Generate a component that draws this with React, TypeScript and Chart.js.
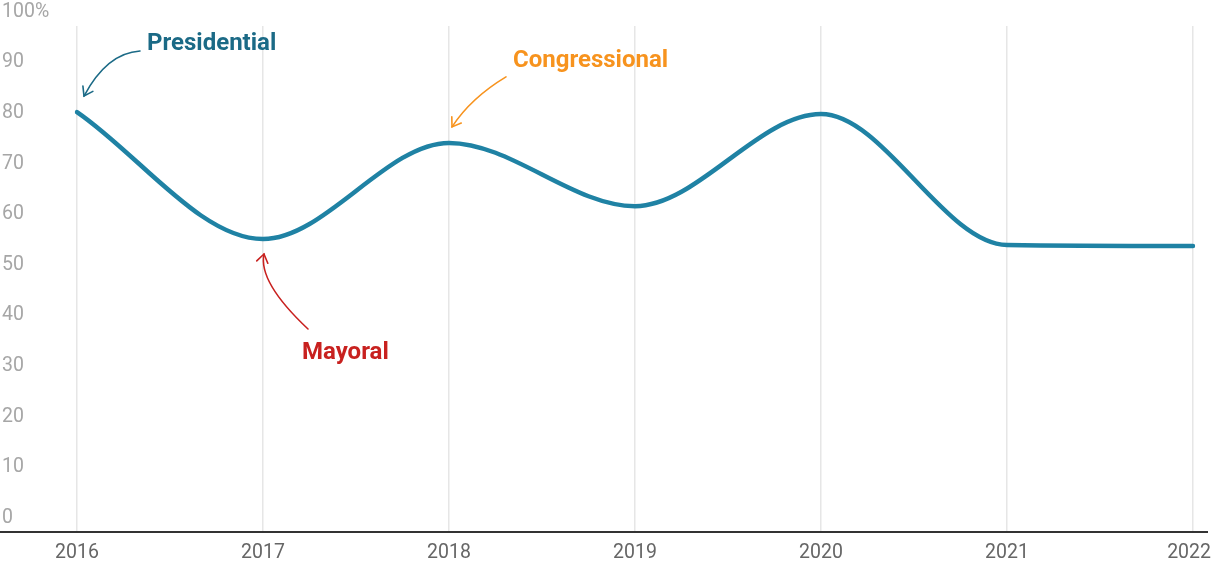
import React, { useEffect, useRef } from "react";
import { Chart, registerables } from "chart.js";

Chart.register(...registerables);

const years = ["2016", "2017", "2018", "2019", "2020", "2021", "2022"];
const turnout = [83.0, 57.9, 76.9, 64.4, 82.6, 56.7, 56.5];
const yTicks = [0, 10, 20, 30, 40, 50, 60, 70, 80, 90, 100];

type Note = {
  text: string;
  index: number;
  color: string;
  tx: number; ty: number;
  sx: number; sy: number;
  cx: number; cy: number;
  ex: number; ey: number;
};

const notes: Note[] = [
  { text: "Presidential", index: 0, color: "#1b6a86", tx: 70, ty: -68, sx: 63, sy: -61, cx: 30, cy: -59, ex: 7, ey: -16 },
  { text: "Mayoral", index: 1, color: "#c8211f", tx: 39, ty: 114, sx: 45, sy: 90, cx: -5, cy: 43, ex: 1, ey: 15 },
  { text: "Congressional", index: 2, color: "#f7931e", tx: 64, ty: -82, sx: 57, sy: -66, cx: 22, cy: -45, ex: 3, ey: -16 },
];

const FONT = "Roboto, 'Noto Sans', sans-serif";

const overlay = {
  id: "overlay",
  afterDraw(chart: any) {
    const { ctx, scales } = chart;
    const xs = scales.x;
    const ys = scales.y;
    ctx.save();
    // y labels
    ctx.font = `19.5px ${FONT}`;
    ctx.fillStyle = "#a6a6a6";
    ctx.textAlign = "left";
    ctx.textBaseline = "middle";
    yTicks.forEach((v) => {
      const y = ys.getPixelForValue(v) - 14;
      ctx.fillText(v === 100 ? "100%" : String(v), 2, y);
    });
    // baseline
    const by = ys.getPixelForValue(0);
    ctx.strokeStyle = "#333333";
    ctx.lineWidth = 2;
    ctx.beginPath();
    ctx.moveTo(0, by);
    ctx.lineTo(1208, by);
    ctx.stroke();
    // x labels
    ctx.fillStyle = "#666666";
    ctx.textAlign = "center";
    years.forEach((yr, i) => {
      let x = xs.getPixelForValue(i);
      const w = ctx.measureText(yr).width;
      if (x + w / 2 > 1211) x = 1211 - w / 2;
      ctx.fillText(yr, x, by + 21);
    });
    // annotations
    notes.forEach((n) => {
      const px = xs.getPixelForValue(n.index);
      const py = ys.getPixelForValue(turnout[n.index]);
      ctx.font = `bold 24px ${FONT}`;
      ctx.fillStyle = n.color;
      ctx.textAlign = "left";
      ctx.textBaseline = "middle";
      ctx.fillText(n.text, px + n.tx, py + n.ty);
      const sx = px + n.sx, sy = py + n.sy;
      const cx = px + n.cx, cy = py + n.cy;
      const ex = px + n.ex, ey = py + n.ey;
      ctx.strokeStyle = n.color;
      ctx.lineWidth = 1.6;
      ctx.lineCap = "round";
      ctx.beginPath();
      ctx.moveTo(sx, sy);
      ctx.quadraticCurveTo(cx, cy, ex, ey);
      ctx.stroke();
      const ang = Math.atan2(ey - cy, ex - cx);
      const L = 10;
      ctx.beginPath();
      ctx.moveTo(ex - L * Math.cos(ang - 0.6), ey - L * Math.sin(ang - 0.6));
      ctx.lineTo(ex, ey);
      ctx.lineTo(ex - L * Math.cos(ang + 0.6), ey - L * Math.sin(ang + 0.6));
      ctx.stroke();
    });
    ctx.restore();
  },
};

export default function App() {
  const ref = useRef<HTMLCanvasElement>(null);
  useEffect(() => {
    document.body.style.margin = "0";
    const chart = new Chart(ref.current as HTMLCanvasElement, {
      type: "line",
      data: {
        labels: years,
        datasets: [
          {
            data: turnout,
            borderColor: "#1f82a4",
            borderWidth: 4.5,
            borderCapStyle: "round",
            cubicInterpolationMode: "monotone",
            pointRadius: 0,
            fill: false,
          },
        ],
      },
      options: {
        responsive: false,
        animation: false,
        layout: { padding: { left: 77, right: 20, top: 26, bottom: 33 } },
        plugins: { legend: { display: false }, tooltip: { enabled: false } },
        scales: {
          x: {
            offset: false,
            grid: { color: "#e6e6e6", lineWidth: 1.5, drawTicks: false },
            border: { display: false },
            ticks: { display: false },
          },
          y: { display: false, min: 0, max: 100 },
        },
      },
      plugins: [overlay],
    });
    return () => chart.destroy();
  }, []);
  return (
    <div style={{ width: 1213, height: 565 }}>
      <canvas ref={ref} width={1213} height={565} />
    </div>
  );
}
